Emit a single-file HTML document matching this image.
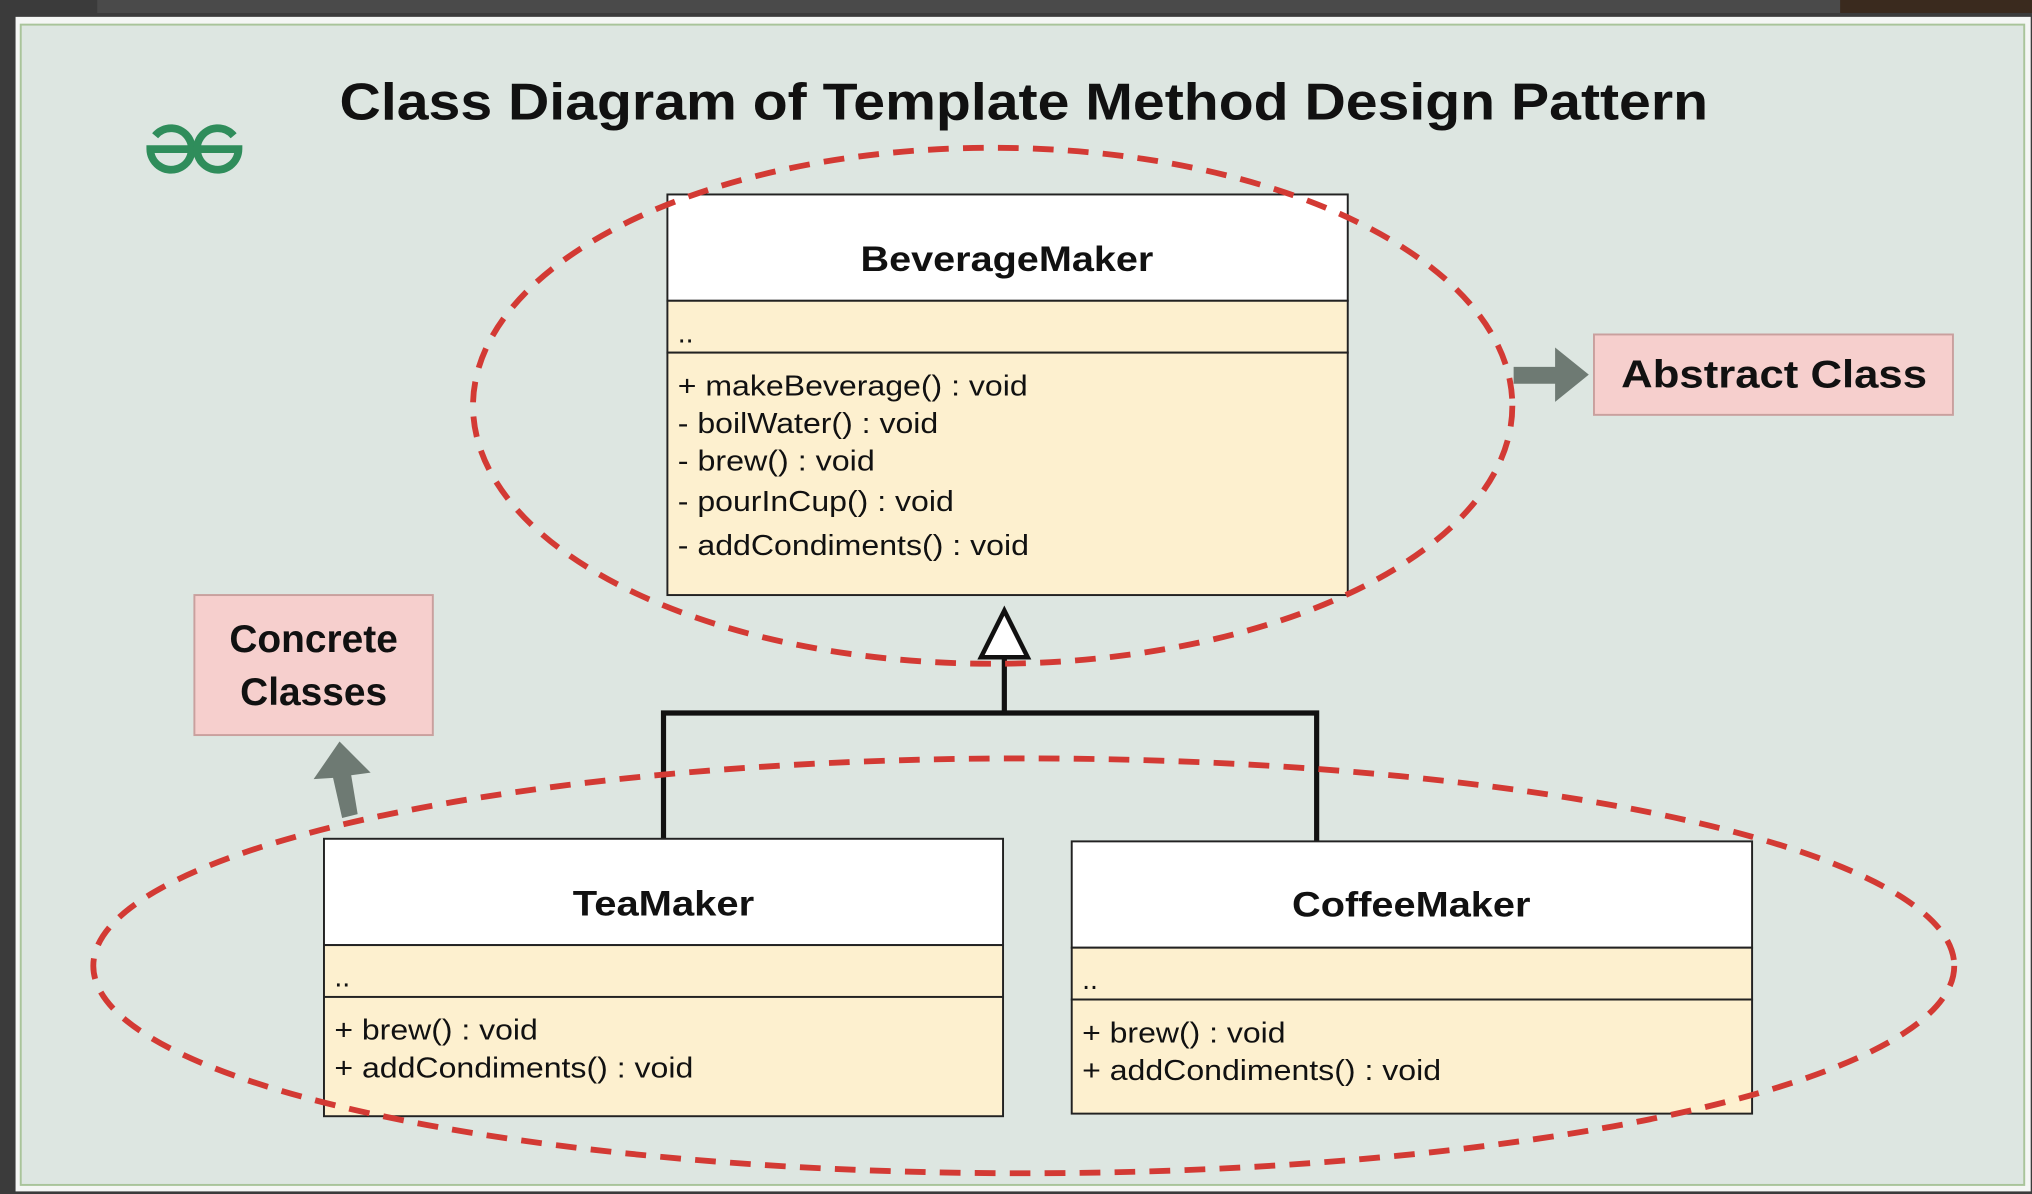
<!DOCTYPE html>
<html><head><meta charset="utf-8"><style>
html,body{margin:0;padding:0;background:#3b3b3b;}
svg{display:block;}
</style></head><body>
<svg width="2032" height="1194" viewBox="0 0 1568 921" preserveAspectRatio="none" xmlns="http://www.w3.org/2000/svg" font-family="Liberation Sans, sans-serif">
<rect x="0" y="0" width="1568" height="921" fill="#3b3b3b"/>
<rect x="75" y="0" width="1345" height="10" fill="#4a4a4a"/>
<rect x="1420" y="0" width="148" height="10" fill="#3a2a1e"/>
<rect x="12" y="13" width="1555" height="906" fill="#f4f6f4"/>
<rect x="16" y="19" width="1546" height="895" fill="#dde6e1" stroke="#a9c49a" stroke-width="1.5"/>
<text x="262" y="92" font-size="40" font-weight="bold" fill="#111" textLength="1056" lengthAdjust="spacingAndGlyphs">Class Diagram of Template Method Design Pattern</text>
<!-- GfG logo -->
<g fill="none" stroke="#2f8d5b" stroke-width="6">
<path d="M119.7,104.7 A16,16 0 1 1 116,115 L148,115"/>
<path d="M180.3,104.7 A16,16 0 1 0 184,115 L152,115"/>
</g>

<!-- BeverageMaker -->
<rect x="515" y="150" width="525" height="82" fill="#fff" stroke="#222" stroke-width="1.5"/>
<rect x="515" y="232" width="525" height="40" fill="#fdf0cf" stroke="#222" stroke-width="1.5"/>
<rect x="515" y="272" width="525" height="187" fill="#fdf0cf" stroke="#222" stroke-width="1.5"/>
<text x="664" y="209" font-size="27" font-weight="bold" fill="#111" textLength="226" lengthAdjust="spacingAndGlyphs">BeverageMaker</text>
<text x="523" y="264" font-size="22" fill="#111">..</text>
<g font-size="22" fill="#111">
<text x="523" y="305" textLength="270" lengthAdjust="spacingAndGlyphs">+ makeBeverage() : void</text>
<text x="523" y="334" textLength="201" lengthAdjust="spacingAndGlyphs">- boilWater() : void</text>
<text x="523" y="363" textLength="152" lengthAdjust="spacingAndGlyphs">- brew() : void</text>
<text x="523" y="394" textLength="213" lengthAdjust="spacingAndGlyphs">- pourInCup() : void</text>
<text x="523" y="428" textLength="271" lengthAdjust="spacingAndGlyphs">- addCondiments() : void</text>
</g>

<!-- inheritance -->
<polyline points="512,647 512,550 1016,550 1016,650" fill="none" stroke="#111" stroke-width="4"/>
<line x1="775" y1="507" x2="775" y2="550" stroke="#111" stroke-width="4"/>
<polygon points="775,471 757,507 793,507" fill="#fff" stroke="#111" stroke-width="3.5"/>

<!-- TeaMaker -->
<rect x="250" y="647" width="524" height="82" fill="#fff" stroke="#222" stroke-width="1.5"/>
<rect x="250" y="729" width="524" height="40" fill="#fdf0cf" stroke="#222" stroke-width="1.5"/>
<rect x="250" y="769" width="524" height="92" fill="#fdf0cf" stroke="#222" stroke-width="1.5"/>
<text x="442" y="706" font-size="27" font-weight="bold" fill="#111" textLength="140" lengthAdjust="spacingAndGlyphs">TeaMaker</text>
<text x="258" y="761" font-size="22" fill="#111">..</text>
<text x="258" y="802" font-size="22" fill="#111" textLength="157" lengthAdjust="spacingAndGlyphs">+ brew() : void</text>
<text x="258" y="831" font-size="22" fill="#111" textLength="277" lengthAdjust="spacingAndGlyphs">+ addCondiments() : void</text>

<!-- CoffeeMaker -->
<rect x="827" y="649" width="525" height="82" fill="#fff" stroke="#222" stroke-width="1.5"/>
<rect x="827" y="731" width="525" height="40" fill="#fdf0cf" stroke="#222" stroke-width="1.5"/>
<rect x="827" y="771" width="525" height="88" fill="#fdf0cf" stroke="#222" stroke-width="1.5"/>
<text x="997" y="707" font-size="27" font-weight="bold" fill="#111" textLength="184" lengthAdjust="spacingAndGlyphs">CoffeeMaker</text>
<text x="835" y="763" font-size="22" fill="#111">..</text>
<text x="835" y="804" font-size="22" fill="#111" textLength="157" lengthAdjust="spacingAndGlyphs">+ brew() : void</text>
<text x="835" y="833" font-size="22" fill="#111" textLength="277" lengthAdjust="spacingAndGlyphs">+ addCondiments() : void</text>

<!-- ellipses -->
<ellipse cx="766" cy="313" rx="401" ry="199" fill="none" stroke="#d33a34" stroke-width="4.5" stroke-dasharray="16,11"/>
<ellipse cx="790" cy="745" rx="718" ry="160" fill="none" stroke="#d33a34" stroke-width="4.5" stroke-dasharray="16,11"/>

<!-- Abstract Class -->
<rect x="1230" y="258" width="277" height="62" fill="#f6cfcd" stroke="#c9a09e" stroke-width="1.5"/>
<text x="1251" y="299" font-size="30" font-weight="bold" fill="#111" textLength="236" lengthAdjust="spacingAndGlyphs">Abstract Class</text>
<polygon points="1168,283 1200,283 1200,268 1226,289 1200,310 1200,296 1168,296" fill="#6e7a73"/>

<!-- Concrete Classes -->
<rect x="150" y="459" width="184" height="108" fill="#f6cfcd" stroke="#c9a09e" stroke-width="1.5"/>
<text x="242" y="503" text-anchor="middle" font-size="30" font-weight="bold" fill="#111">Concrete</text>
<text x="242" y="544" text-anchor="middle" font-size="30" font-weight="bold" fill="#111">Classes</text>
<polygon points="264,631 276,628 271,598 286,596 262,572 242,601 257,600" fill="#6e7a73"/>
</svg>
</body></html>
